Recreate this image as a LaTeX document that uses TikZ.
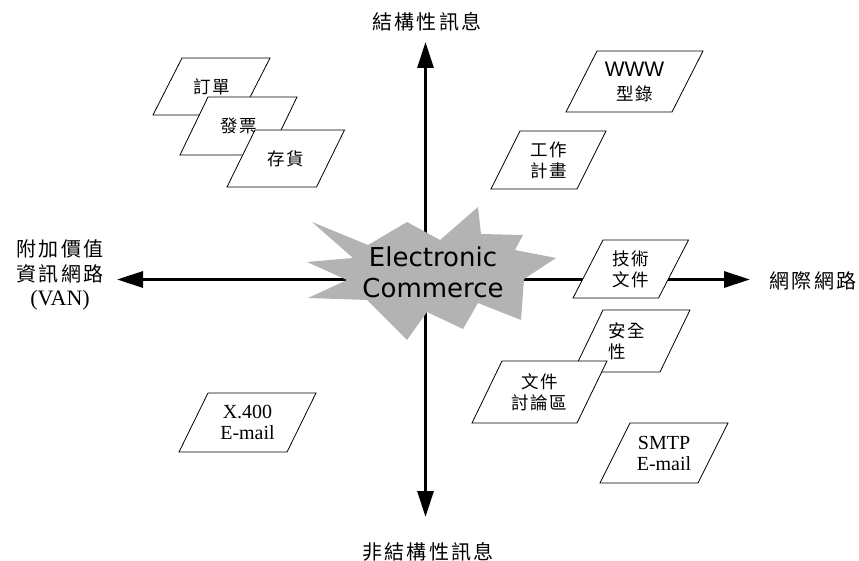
\documentclass[tikz,border=0pt]{standalone}
\usepackage{fontspec}
\setmainfont{Liberation Serif}
\newfontfamily\cjk[LetterSpace=10]{Noto Sans CJK TC}
\newfontfamily\cjkaxis[LetterSpace=12]{Noto Sans CJK TC}
\newfontfamily\wwwfont{Liberation Sans}
\newfontfamily\ecfont{DejaVu Sans}
\usetikzlibrary{arrows.meta}
\newcommand\cjkbox{\cjk\fontsize{17.5}{21}\selectfont}
\newcommand\latinbox{\fontsize{20}{21}\selectfont}
\newcommand\axislabel{\cjkaxis\fontsize{20}{24.75}\selectfont}
\definecolor{burst}{RGB}{179,179,179}
% slanted document box: [text options]{name}{cx}{cy}{edge width}{height}{slant}{text}
\newcommand\docbox[8][]{%
  \filldraw[frame] ({#3-#5/2+#7/2},{#4-#6/2}) -- ++(#5,0) -- ++({-#7},#6)
    -- ++({-#5},0) -- cycle;
  \node[boxtext,#1] (#2) at (#3,#4) {#8};}
\begin{document}
\begin{tikzpicture}[x=1pt,y=-1pt,
  axis/.style={line width=3pt,
    {Triangle[length=26pt,width=16pt]}-{Triangle[length=26pt,width=16pt]}},
  frame/.style={draw=black, fill=white, line width=0.8pt},
  boxtext/.style={inner sep=0pt, align=center, font=\cjkbox},
  latin/.style={font=\latinbox},
  axlabel/.style={inner sep=0pt, align=center, font=\axislabel}]
\useasboundingbox (0,0) rectangle (859,561);

% axis end points
\coordinate (top) at (425.5,42);
\coordinate (bottom) at (425.5,517);
\coordinate (left) at (117,279.5);
\coordinate (right) at (750,279.5);

\draw[axis] (top) -- (bottom);
\draw[axis] (left) -- (right);

% axis captions
\node[axlabel] (lstruct) at (427,22) {結構性訊息};
\node[axlabel] (lunstruct) at (428,552) {非結構性訊息};
\node[axlabel] (lnet) at (813,281) {網際網路};
\node[axlabel] (lvan) at (60,275) {附加價值\\資訊網路\\{\rmfamily\fontsize{22}{24.75}\selectfont (VAN)}};

% central starburst
\fill[burst] (312,222) -- (368,245) -- (407,222) -- (440,240) -- (478,207)
  -- (481,234) -- (523,235) -- (515,250) -- (556,258) -- (524,279)
  -- (521,320) -- (478,303) -- (463,329) -- (427,312) -- (407,340)
  -- (367,300) -- (308,298) -- (347,280) -- (307,262) -- (353,258) -- cycle;
\node[inner sep=0pt, align=center, font={\ecfont\fontsize{26}{31}\selectfont}]
  (ec) at (433,272) {Electronic\\Commerce};

% document stack, upper left
\docbox{order}{211.5}{86.5}{88}{57}{29}{訂單}
\docbox{invoice}{238.5}{126}{89}{58}{28}{發票}
\docbox{stock}{285.75}{158.5}{89.5}{57}{28}{存貨}

% upper right
\docbox[font={\cjk\fontsize{17.5}{24}\selectfont}]{www}{634.5}{81.5}{106}{61}{31}%
  {{\wwwfont\fontsize{21}{24}\selectfont WWW}\\型錄}
\docbox{plan}{548.5}{160}{86}{58}{29}{工作\\計畫}

% lower right
\docbox{tech}{630.75}{269}{85.5}{58}{30}{技術\\文件}
\docbox[align=left, xshift=-5pt]{secure}{631.5}{341}{87}{62}{30}{安全\\性}
\docbox{forum}{539.5}{392}{105}{62}{30}{文件\\討論區}
\docbox[latin]{smtp}{664}{453}{98}{60}{30}{SMTP\\E-mail}

% lower left
\docbox[latin]{x400}{247.5}{422.5}{108}{59}{29}{X.400\\E-mail}
\end{tikzpicture}
\end{document}
